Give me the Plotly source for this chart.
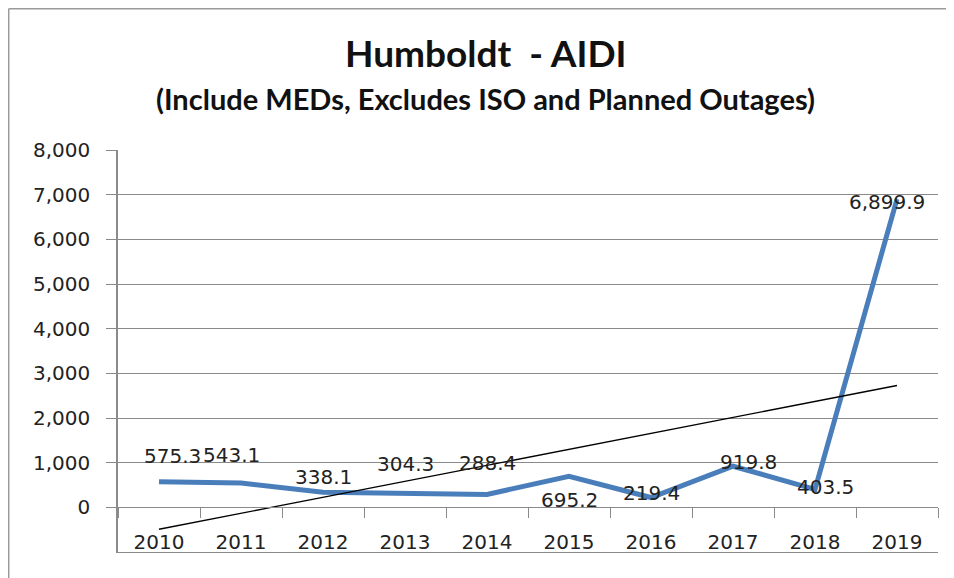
import numpy as np
import plotly.graph_objects as go

# ---- data ----
years = ["2010", "2011", "2012", "2013", "2014", "2015", "2016", "2017", "2018", "2019"]
aidi = [575.3, 543.1, 338.1, 304.3, 288.4, 695.2, 219.4, 919.8, 403.5, 6899.9]
labels = ["575.3", "543.1", "338.1", "304.3", "288.4", "695.2", "219.4", "919.8", "403.5", "6,899.9"]
y_ticks = [-1000, 0, 1000, 2000, 3000, 4000, 5000, 6000, 7000, 8000]
y_tick_text = ["-1,000", "0", "1,000", "2,000", "3,000", "4,000", "5,000", "6,000", "7,000", "8,000"]

# label pixel offsets (dx, dy up)
label_dx = [13, -10, 0, 0, 0, 0, 0, 15, 10, -10]
label_dy = [26, 28, 15, 30, 31, -24, 5, 4, 2, -3]

# the page adds an 8px body margin; lay out in screen pixels and convert
OFF = 8
W, H = 954 - OFF, 578 - OFF
ML, MT = 118 - OFF, 150 - OFF
MR = W - (938 - OFF)
MB = H - (552 - OFF)
PW, PH = W - ML - MR, H - MT - MB

def px(sx):
    return (sx - OFF - ML) / PW

def py(sy):
    return (H - MB - (sy - OFF)) / PH

xi = np.arange(len(years))
slope, intercept = np.polyfit(xi, aidi, 1)
trend = slope * xi + intercept

GRID = "#8a8a8a"
TXT = "#222222"
FONT = "DejaVu Sans"

fig = go.Figure()
fig.add_trace(go.Scatter(x=xi, y=aidi, mode="lines",
                         line=dict(color="#4A7EBB", width=5),
                         hoverinfo="skip", showlegend=False))
fig.add_trace(go.Scatter(x=xi, y=trend, mode="lines",
                         line=dict(color="#000000", width=1.3),
                         hoverinfo="skip", showlegend=False))
# dummy trace for the category boundary axis at y=0
fig.add_trace(go.Scatter(x=[0], y=[0], xaxis="x2", mode="markers",
                         marker=dict(opacity=0), hoverinfo="skip", showlegend=False))

for i, t in enumerate(labels):
    fig.add_annotation(x=xi[i], y=aidi[i], text=t, showarrow=False,
                       xanchor="center", yanchor="middle",
                       xshift=label_dx[i], yshift=label_dy[i],
                       font=dict(family=FONT, size=20, color=TXT))

fig.add_annotation(x=px(486), y=py(52), xref="paper", yref="paper",
                   xanchor="center", yanchor="middle",
                   text="<b>Humboldt  - AIDI</b>", showarrow=False,
                   font=dict(family="Lato", size=37, color="#111111"))
fig.add_annotation(x=px(485), y=py(99), xref="paper", yref="paper",
                   xanchor="center", yanchor="middle",
                   text="<b>(Include MEDs, Excludes ISO and Planned Outages)</b>", showarrow=False,
                   font=dict(family="Lato", size=29, color="#111111"))

# outer border (left and top)
fig.add_shape(type="line", xref="paper", yref="paper",
              x0=px(8.7), x1=px(8.7), y0=py(8.7), y1=py(600),
              line=dict(color="#9a9a9a", width=1.5))
fig.add_shape(type="line", xref="paper", yref="paper",
              x0=px(8.7), x1=px(1000), y0=py(8.7), y1=py(8.7),
              line=dict(color="#9a9a9a", width=1.5))

zero_pos = (0 - y_ticks[0]) / (y_ticks[-1] - y_ticks[0])

fig.update_layout(
    width=W, height=H,
    margin=dict(l=ML, r=MR, t=MT, b=MB),
    paper_bgcolor="white", plot_bgcolor="white",
    xaxis=dict(range=[-0.5, 9.5], tickmode="array", tickvals=list(xi), ticktext=years,
               showgrid=False, zeroline=False, showline=True, linecolor=GRID, linewidth=1,
               ticks="", ticklabelposition="inside",
               tickfont=dict(family=FONT, size=20, color=TXT)),
    xaxis2=dict(range=[-0.5, 9.5], overlaying="x", anchor="free", position=zero_pos,
                side="bottom", tickmode="array", tickvals=[k - 0.5 for k in range(11)],
                showticklabels=False, showgrid=False, zeroline=False,
                showline=True, linecolor=GRID, linewidth=1,
                ticks="outside", ticklen=10, tickcolor=GRID, tickwidth=1),
    yaxis=dict(range=[y_ticks[0], y_ticks[-1]], tickmode="array", tickvals=y_ticks,
               ticktext=y_tick_text, showgrid=True, gridcolor=GRID, gridwidth=1,
               zeroline=False, showline=True, linecolor=GRID, linewidth=1.5,
               ticks="outside", ticklen=10, tickcolor=GRID, tickwidth=1,
               ticklabelstandoff=12,
               tickfont=dict(family=FONT, size=20, color=TXT)),
)

fig.write_html("out.html")
